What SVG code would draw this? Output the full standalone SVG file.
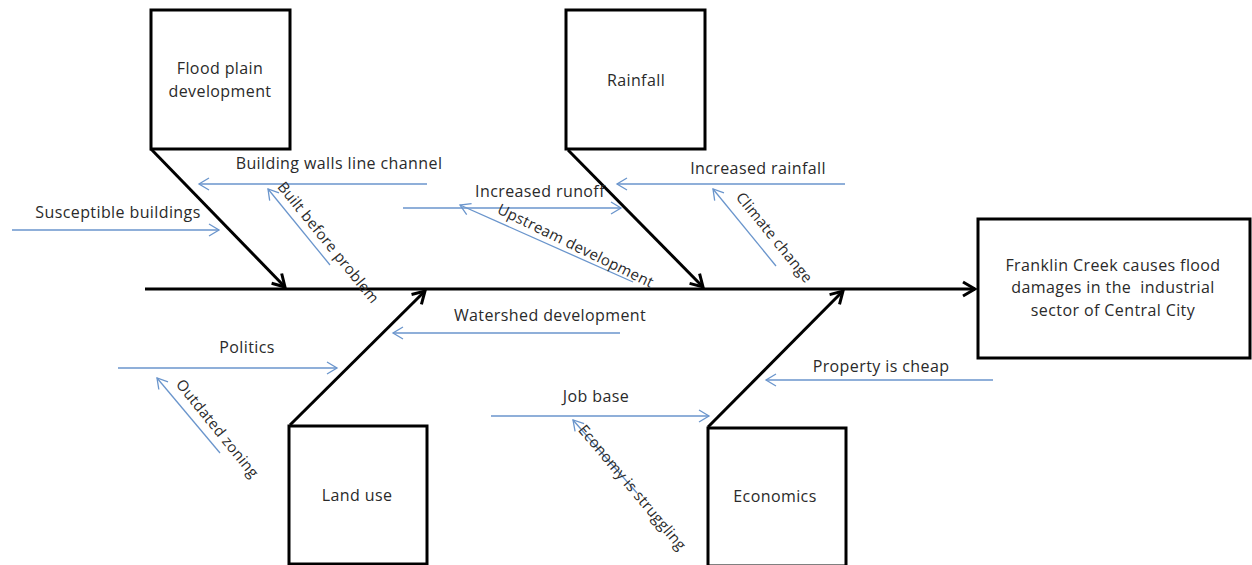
<svg xmlns="http://www.w3.org/2000/svg" width="1252" height="565" viewBox="0 0 1252 565">
<style>
.box{fill:#fff;stroke:#000;stroke-width:3}
.bone{fill:none;stroke:#000;stroke-width:3;marker-end:url(#ha)}
.sub{fill:none;stroke:#6a95cc;stroke-width:1.3;marker-end:url(#hb)}
.t{font-family:"Open Sans","Liberation Sans",sans-serif;font-size:16px;letter-spacing:0.4px;fill:#2a2a2a;text-anchor:middle;white-space:pre}
.r{font-size:15px;letter-spacing:0.3px;dominant-baseline:central}
</style>
<defs>
<marker id="ha" markerUnits="userSpaceOnUse" viewBox="-14 -9 16 18" refX="0" refY="0" markerWidth="16" markerHeight="18" orient="auto">
<path d="M-12,-7 L0,0 L-12,7" fill="none" stroke="#000" stroke-width="3"/>
</marker>
<marker id="hb" markerUnits="userSpaceOnUse" viewBox="-12 -8 14 16" refX="0" refY="0" markerWidth="14" markerHeight="16" orient="auto">
<path d="M-10,-6 L0,0 L-10,6" fill="none" stroke="#6a95cc" stroke-width="1.3"/>
</marker>
</defs>
<rect width="1252" height="565" fill="#fff"/>
<g id="connectors">
<line class="bone" x1="145" y1="289" x2="975" y2="289"/>
<line class="bone" x1="151" y1="149" x2="285" y2="287"/>
<line class="bone" x1="568" y1="150" x2="703" y2="287"/>
<line class="bone" x1="290" y1="425" x2="425" y2="291"/>
<line class="bone" x1="708" y1="427" x2="843" y2="291"/>
<line class="sub" x1="427" y1="184" x2="199" y2="184"/>
<line class="sub" x1="330" y1="265" x2="268" y2="189"/>
<line class="sub" x1="12" y1="230" x2="219" y2="230"/>
<line class="sub" x1="403" y1="208" x2="621" y2="208"/>
<line class="sub" x1="633" y1="282" x2="460" y2="205"/>
<line class="sub" x1="845" y1="184" x2="617" y2="184"/>
<line class="sub" x1="776" y1="266" x2="713" y2="189"/>
<line class="sub" x1="620" y1="333" x2="393" y2="333"/>
<line class="sub" x1="118" y1="368" x2="337" y2="368"/>
<line class="sub" x1="220" y1="453" x2="157" y2="378"/>
<line class="sub" x1="491" y1="416" x2="709" y2="416"/>
<line class="sub" x1="637" y1="493" x2="573" y2="420"/>
<line class="sub" x1="993" y1="380" x2="766" y2="380"/>
</g>
<g id="labels">
<text class="t" x="339" y="169">Building walls line channel</text>
<text class="t" x="118" y="218">Susceptible buildings</text>
<text class="t" x="540" y="197">Increased runoff</text>
<text class="t" x="758" y="174">Increased rainfall</text>
<text class="t" x="550" y="321">Watershed development</text>
<text class="t" x="247" y="353">Politics</text>
<text class="t" x="596" y="402">Job base</text>
<text class="t" x="881" y="372">Property is cheap</text>
<text class="t r" transform="translate(329,242) rotate(51)">Built before problem</text>
<text class="t r" transform="translate(576,245) rotate(26)">Upstream development</text>
<text class="t r" transform="translate(775,237) rotate(51)">Climate change</text>
<text class="t r" transform="translate(218,428) rotate(51)">Outdated zoning</text>
<text class="t r" transform="translate(633,487) rotate(50)">Economy is struggling</text>
</g>
<g id="flood-plain">
<rect class="box" x="151" y="10" width="139" height="139"/>
<text class="t" x="220" y="74">Flood plain</text>
<text class="t" x="220" y="97">development</text>
</g>
<g id="rainfall">
<rect class="box" x="566" y="10" width="139" height="139"/>
<text class="t" x="636" y="86">Rainfall</text>
</g>
<g id="land-use">
<rect class="box" x="289" y="426" width="138" height="138"/>
<text class="t" x="357" y="501">Land use</text>
</g>
<g id="economics">
<rect class="box" x="708" y="428" width="138" height="138"/>
<text class="t" x="775" y="502">Economics</text>
</g>
<g id="effect">
<rect class="box" x="978" y="219" width="272" height="139"/>
<text class="t" x="1113" y="271">Franklin Creek causes flood</text>
<text class="t" x="1113" y="293">damages in the  industrial</text>
<text class="t" x="1113" y="316">sector of Central City</text>
</g>
</svg>
